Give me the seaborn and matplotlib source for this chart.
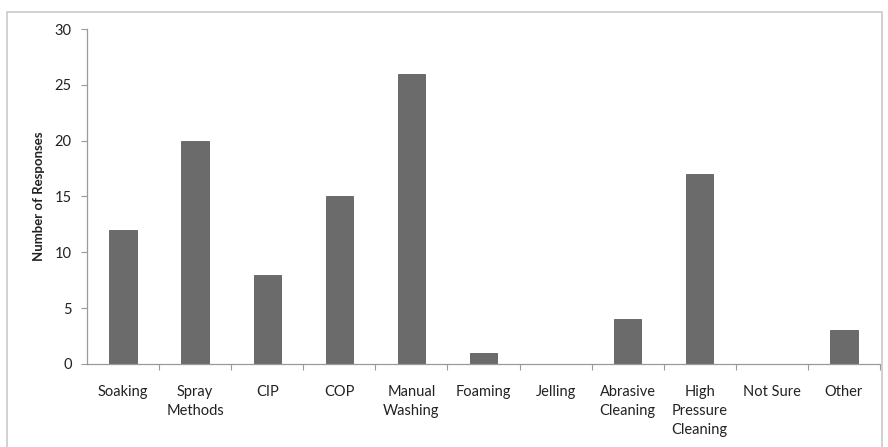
import matplotlib
matplotlib.use("Agg")
import matplotlib.pyplot as plt
import matplotlib.patches as patches
import seaborn as sns
import pandas as pd

# data
categories = ["Soaking", "Spray\nMethods", "CIP", "COP", "Manual\nWashing",
              "Foaming", "Jelling", "Abrasive\nCleaning", "High\nPressure\nCleaning",
              "Not Sure", "Other"]
responses = [12, 20, 8, 15, 26, 1, 0, 4, 17, 0, 3]
y_ticks = [0, 5, 10, 15, 20, 25, 30]

sns.set_style("white")
plt.rcParams["font.family"] = ["Lato", "DejaVu Sans"]

df = pd.DataFrame({"method": categories, "count": responses})

fig = plt.figure(figsize=(8.88, 4.47), dpi=100)
ax = fig.add_axes([0.098, 0.186, 0.893, 0.749])

# outer chart frame like the spreadsheet export
frame = patches.Rectangle((0.008, -0.05), 0.985, 1.023, transform=fig.transFigure,
                          fill=False, edgecolor="#c9c9c9", linewidth=1.2, zorder=0)
fig.patches.append(frame)

sns.barplot(data=df, x="method", y="count", color="#6b6b6b", width=0.38,
            saturation=1, ax=ax, edgecolor="#5e5e5e", linewidth=0.6)

ax.set_xlim(-0.5, len(categories) - 0.5)
ax.set_ylim(0, 30)
ax.set_yticks(y_ticks)
ax.set_xlabel("")
ax.set_ylabel("Number of Responses", fontsize=9.5, fontweight="bold", labelpad=7,
              color="#222222")

# tick marks sit between categories on the x axis
ax.set_xticks([i + 0.5 for i in range(len(categories) - 1)] + [len(categories) - 0.5],
              minor=True)
ax.tick_params(axis="x", which="major", length=0, pad=15, labelsize=10.5,
               colors="#222222")
ax.tick_params(axis="x", which="minor", length=4, width=0.8, color="#9a9a9a",
               direction="out", bottom=True)
ax.tick_params(axis="y", length=4, width=0.8, color="#9a9a9a", direction="out",
               left=True, pad=7, labelsize=10.5, labelcolor="#222222")
for lbl in ax.get_xticklabels():
    lbl.set_linespacing(1.45)
    lbl.set_verticalalignment("top")

sns.despine(ax=ax, top=True, right=True)
for side in ["left", "bottom"]:
    ax.spines[side].set_color("#9a9a9a")
    ax.spines[side].set_linewidth(0.9)

fig.savefig("out.png", dpi=100)
